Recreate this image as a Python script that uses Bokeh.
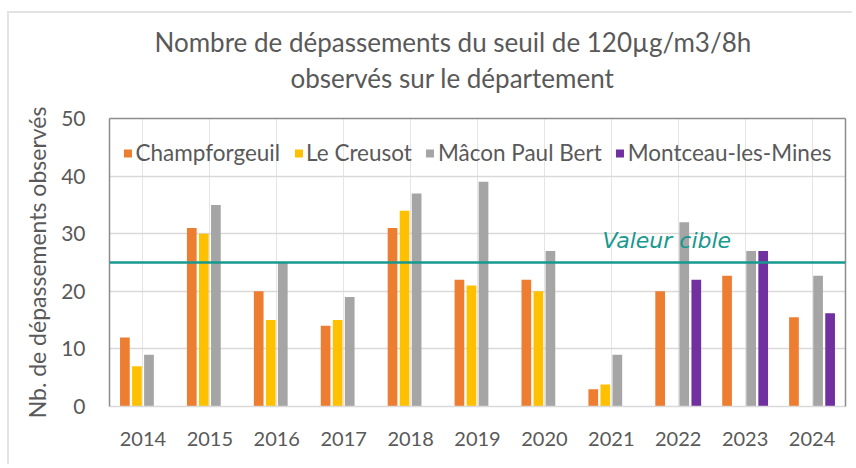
from bokeh.plotting import figure
from bokeh.models import (ColumnDataSource, FactorRange, Legend, LegendItem, Span, Label, Title,
                          SingleIntervalTicker, LinearAxis, CategoricalAxis, FixedTicker)
from bokeh.transform import dodge
from bokeh.embed import file_html
from bokeh.resources import INLINE

years = ["2014", "2015", "2016", "2017", "2018", "2019", "2020", "2021", "2022", "2023", "2024"]
champforgeuil = [12, 31, 20, 14, 31, 22, 22, 3, 20, 22.7, 15.5]
le_creusot = [7, 30, 15, 15, 34, 21, 20, 3.8, None, None, None]
macon = [9, 35, 25, 19, 37, 39, 27, 9, 32, 27, 22.7]
montceau = [None, None, None, None, None, None, None, None, 22, 27, 16.2]
target = 25

series = [
    ("Champforgeuil", champforgeuil, "#ED7D31", -0.27),
    ("Le Creusot", le_creusot, "#FFC000", -0.09),
    ("Mâcon Paul Bert", macon, "#A5A5A5", 0.09),
    ("Montceau-les-Mines", montceau, "#7030A0", 0.27),
]

FONT = "Lato"
TXT = "#595959"
TEAL = "#17998F"

p = figure(x_range=FactorRange(factors=years, range_padding=0), y_range=(0, 50),
           width=845, height=453, output_backend="svg", toolbar_location=None,
           x_axis_location=None, y_axis_location=None,
           min_border_left=100, min_border_right=9, min_border_top=105, min_border_bottom=60)
p.x_range.range_padding = 0
p.margin = (11, 0, 0, 7)
p.styles = {"border-top": "2px solid #E3E3E3", "border-left": "2px solid #E3E3E3"}

items = []
for name, vals, color, off in series:
    xs = [y for y, v in zip(years, vals) if v is not None]
    vs = [v for v in vals if v is not None]
    src = ColumnDataSource(dict(x=xs, v=vs))
    r = p.vbar(x=dodge("x", off, range=p.x_range), top="v", width=0.145, source=src,
               fill_color=color, line_color=None)
    items.append(LegendItem(label=name, renderers=[r]))

p.add_layout(Span(location=target, dimension="width", line_color=TEAL, line_width=2.5))
p.add_layout(Label(x=8.33, y=target, y_offset=22, text="Valeur cible", text_align="center",
                   text_baseline="middle", text_font="DejaVu Sans", text_font_size="22px",
                   text_font_style="italic", text_color=TEAL))

legend = Legend(items=items, orientation="horizontal", location="top_center",
                label_text_font=FONT, label_text_font_size="22.5px", label_text_color=TXT,
                glyph_width=10, glyph_height=10, label_standoff=3, spacing=13,
                background_fill_alpha=0, border_line_color=None, margin=21, padding=0)
p.add_layout(legend)

# axes
yax = LinearAxis(ticker=SingleIntervalTicker(interval=10), axis_line_color="#8C8C8C", axis_line_width=1.5,
                 major_tick_line_color=None, minor_tick_line_color=None, major_label_standoff=18,
                 major_label_text_font=FONT, major_label_text_font_size="21px", major_label_text_color=TXT,
                 axis_label="Nb. de dépassements observés", axis_label_text_font=FONT,
                 axis_label_text_font_size="23px", axis_label_text_font_style="normal",
                 axis_label_text_color=TXT, axis_label_standoff=7)
p.add_layout(yax, "left")
xax = CategoricalAxis(axis_line_color="#D9D9D9", axis_line_width=1.5,
                      major_tick_line_color=None, minor_tick_line_color=None, major_label_standoff=19,
                      major_label_text_font=FONT, major_label_text_font_size="20px", major_label_text_color=TXT)
p.add_layout(xax, "below")
for loc in ("above", "right"):
    ax = LinearAxis(ticker=FixedTicker(ticks=[]), axis_line_color="#8C8C8C", axis_line_width=1.5,
                    major_label_standoff=0, major_tick_line_color=None, minor_tick_line_color=None)
    p.add_layout(ax, loc)

# titles (added bottom line first: later titles stack above)
p.add_layout(Title(text="observés sur le département", align="left", offset=181, text_font=FONT,
                   text_font_size="26px", text_font_style="normal", text_color=TXT, standoff=50), "above")
p.add_layout(Title(text="Nombre de dépassements du seuil de 120µg/m3/8h", align="left", offset=45,
                   text_font=FONT, text_font_size="26px", text_font_style="normal", text_color=TXT,
                   standoff=-46), "above")

p.outline_line_color = None
p.ygrid.ticker = SingleIntervalTicker(interval=10)
p.ygrid.grid_line_color = "#D9D9D9"
p.ygrid.grid_line_width = 1.5

open("out.html", "w").write(file_html(p, INLINE))
